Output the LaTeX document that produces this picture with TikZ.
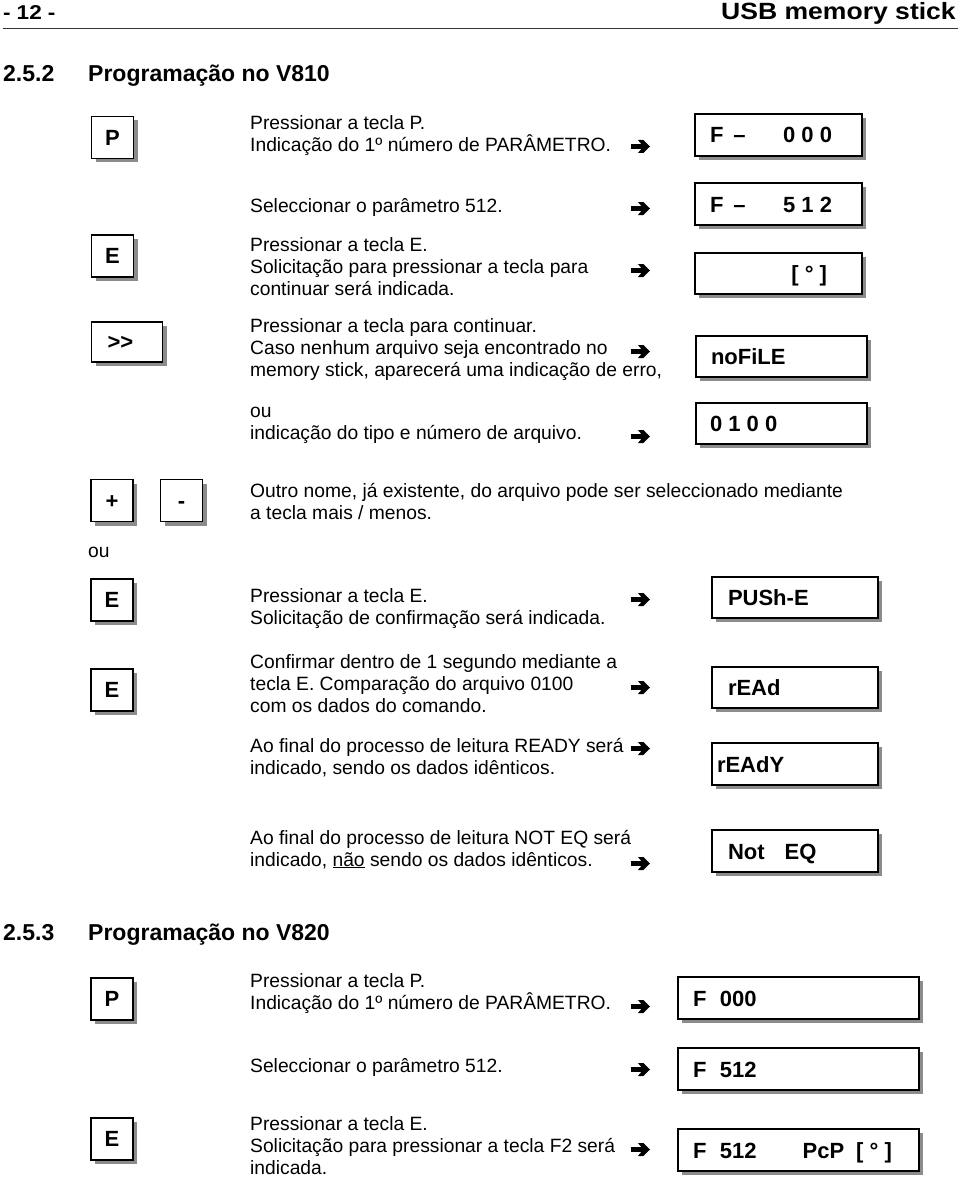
\documentclass[tikz,border=0pt]{standalone}
\usepackage{fontspec}
\setmainfont{Liberation Sans}
\newfontfamily\widebold[FakeStretch=1.13]{Liberation Sans Bold}
\usetikzlibrary{shadows}
\begin{document}
\begin{tikzpicture}[x=1pt,y=-1pt,
  keybox/.style={draw, line width=1.4pt, fill=white, minimum width=42pt, minimum height=42pt,
    inner sep=0pt, text height=15.5pt, text depth=0pt, font=\fontsize{22}{24}\selectfont\bfseries,
    drop shadow={shadow xshift=4pt, shadow yshift=-4pt, fill=black!45, opacity=1}},
  disp/.style={keybox, text height=16pt, font=\fontsize{22}{26}\selectfont\bfseries},
  txt/.style={anchor=base west, inner sep=0pt, font=\fontsize{19.25}{22}\selectfont},
  head/.style={anchor=base west, inner sep=0pt, font=\fontsize{23}{26}\selectfont\bfseries},
  rarrow/.pic={\fill (-9.5,-2.3) -- (1,-2.3) -- (-2.6,-6.5) -- (2.8,-6.5) -- (9.5,0) -- (2.8,6.5) -- (-2.6,6.5) -- (1,2.3) -- (-9.5,2.3) -- cycle;}]
\useasboundingbox (0,0) rectangle (960,1177);
\fill[white] (0,0) rectangle (960,1177);

% page header
\node[anchor=base west, inner sep=0pt, font=\fontsize{20}{22}\widebold] (pg) at (3,20) {-\hspace{6pt}12\hspace{6pt}-};
\node[anchor=base east, inner sep=0pt, font=\fontsize{23.5}{26}\widebold] (title) at (956,20) {USB memory stick};
\coordinate (ruleL) at (3,28.5);
\coordinate (ruleR) at (958,28.5);
\draw[line width=1pt, black!80] (ruleL) -- (ruleR);

% section 2.5.2
\node[head] (h1n) at (3,82) {2.5.2};
\node[head] (h1t) at (88,82) {Programação no V810};

% keys
\node[keybox] (kP) at (112.5,137.5) {P};
\node[keybox] (kE) at (112.5,256) {E};
\node[keybox, minimum width=71pt, minimum height=40pt] (kNext) at (127,342) {\makebox[71pt][l]{\hspace{16pt}>\kern0pt>}};
\node[keybox] (kPlus) at (112,500.5) {+};
\node[keybox] (kMinus) at (181.5,500.5) {-};
\node[keybox] (kE2) at (112,600) {E};
\node[keybox] (kE3) at (112,690) {E};

% texts
\node[txt] (t1a) at (250,130) {Pressionar a tecla P.};
\node[txt] (t1b) at (250,152) {Indicação do 1º número de PARÂMETRO.};
\node[txt] (t2a) at (250,212) {Seleccionar o parâmetro 512.};
\node[txt] (t3a) at (250,251) {Pressionar a tecla E.};
\node[txt] (t3b) at (250,273) {Solicitação para pressionar a tecla para};
\node[txt] (t3c) at (250,295) {continuar será indicada.};
\node[txt] (t4a) at (250,332) {Pressionar a tecla para continuar.};
\node[txt] (t4b) at (250,354) {Caso nenhum arquivo seja encontrado no};
\node[txt] (t4c) at (250,376) {memory stick, aparecerá uma indicação de erro,};
\node[txt] (t5a) at (250,417) {ou};
\node[txt] (t5b) at (250,439) {indicação do tipo e número de arquivo.};
\node[txt] (t6a) at (250,497.5) {Outro nome, já existente, do arquivo pode ser seleccionado mediante};
\node[txt] (t6b) at (250,519.5) {a tecla mais / menos.};
\node[txt] (tou) at (88,557) {ou};
\node[txt] (t7a) at (250,602) {Pressionar a tecla E.};
\node[txt] (t7b) at (250,624) {Solicitação de confirmação será indicada.};
\node[txt] (t8a) at (250,668) {Confirmar dentro de 1 segundo mediante a};
\node[txt] (t8b) at (250,690) {tecla E. Comparação do arquivo 0100};
\node[txt] (t8c) at (250,712) {com os dados do comando.};
\node[txt] (t9a) at (250,752) {Ao final do processo de leitura READY será};
\node[txt] (t9b) at (250,774) {indicado, sendo os dados idênticos.};
\node[txt] (t10a) at (250,844) {Ao final do processo de leitura NOT EQ será};
\node[txt] (t10b) at (250,866) {indicado, \underline{não} sendo os dados idênticos.};

% arrows
\pic (a1) at (640.5,146.5) {rarrow};
\pic (a2) at (640.5,208.5) {rarrow};
\pic (a3) at (640.5,270.5) {rarrow};
\pic (a4) at (640.5,351.5) {rarrow};
\pic (a5) at (640.5,436.5) {rarrow};
\pic (a6) at (640.5,599.5) {rarrow};
\pic (a7) at (640.5,687.5) {rarrow};
\pic (a8) at (640.5,748.5) {rarrow};
\pic (a9) at (640.5,863.5) {rarrow};

% displays
\node[disp, minimum width=167pt] (d1) at (778.5,135) {\makebox[167pt][l]{\hspace{15pt}F\hspace{10pt}–\hfill 0 0 0\hspace{30pt}}};
\node[disp, minimum width=167pt] (d2) at (778.5,204) {\makebox[167pt][l]{\hspace{15pt}F\hspace{10pt}–\hfill 5 1 2\hspace{30pt}}};
\node[disp, minimum width=167pt, minimum height=41pt] (d3) at (778.5,273.5) {\makebox[167pt][r]{[ ° ]\hspace{35pt}}};
\node[disp, minimum width=171pt, minimum height=41pt] (d4) at (781.5,356.5) {\makebox[171pt][l]{\hspace{15pt}noFiLE}};
\node[disp, minimum width=171pt, minimum height=41pt] (d5) at (781.5,423.5) {\makebox[171pt][l]{\hspace{14pt}0 1 0 0}};
\node[disp, minimum width=166pt, minimum height=41pt] (d6) at (795,597.5) {\makebox[166pt][l]{\hspace{16pt}PUSh-E}};
\node[disp, minimum width=166pt, minimum height=41pt] (d7) at (795,687.5) {\makebox[166pt][l]{\hspace{16pt}rEAd}};
\node[disp, minimum width=166pt] (d8) at (795,764) {\makebox[166pt][l]{\hspace{5pt}rEAdY}};
\node[disp, minimum width=166pt] (d9) at (795,851) {\makebox[166pt][l]{\hspace{16pt}Not\hspace{20pt}EQ}};

% section 2.5.3
\node[head] (h2n) at (3,940) {2.5.3};
\node[head] (h2t) at (88,940) {Programação no V820};

\node[keybox] (kP2) at (112,999) {P};
\node[keybox] (kE4) at (112,1139) {E};

\node[txt] (u1a) at (250,987) {Pressionar a tecla P.};
\node[txt] (u1b) at (250,1009) {Indicação do 1º número de PARÂMETRO.};
\node[txt] (u2a) at (250,1072) {Seleccionar o parâmetro 512.};
\node[txt] (u3a) at (250,1130) {Pressionar a tecla E.};
\node[txt] (u3b) at (250,1152) {Solicitação para pressionar a tecla F2 será};
\node[txt] (u3c) at (250,1174) {indicada.};

\pic (b1) at (640.5,1006.5) {rarrow};
\pic (b2) at (640.5,1069.5) {rarrow};
\pic (b3) at (640.5,1149.5) {rarrow};

\node[disp, minimum width=241pt] (e1) at (798.5,998) {\makebox[241pt][l]{\hspace{15pt}F\hspace{13.5pt}000}};
\node[disp, minimum width=241pt] (e2) at (798.5,1069) {\makebox[241pt][l]{\hspace{15pt}F\hspace{13.5pt}512}};
\node[disp, minimum width=241pt] (e3) at (798.5,1150) {\makebox[241pt][l]{\hspace{15pt}F\hspace{13.5pt}512\hspace{46pt}PcP\hspace{12pt}[ ° ]}};
\end{tikzpicture}
\end{document}
